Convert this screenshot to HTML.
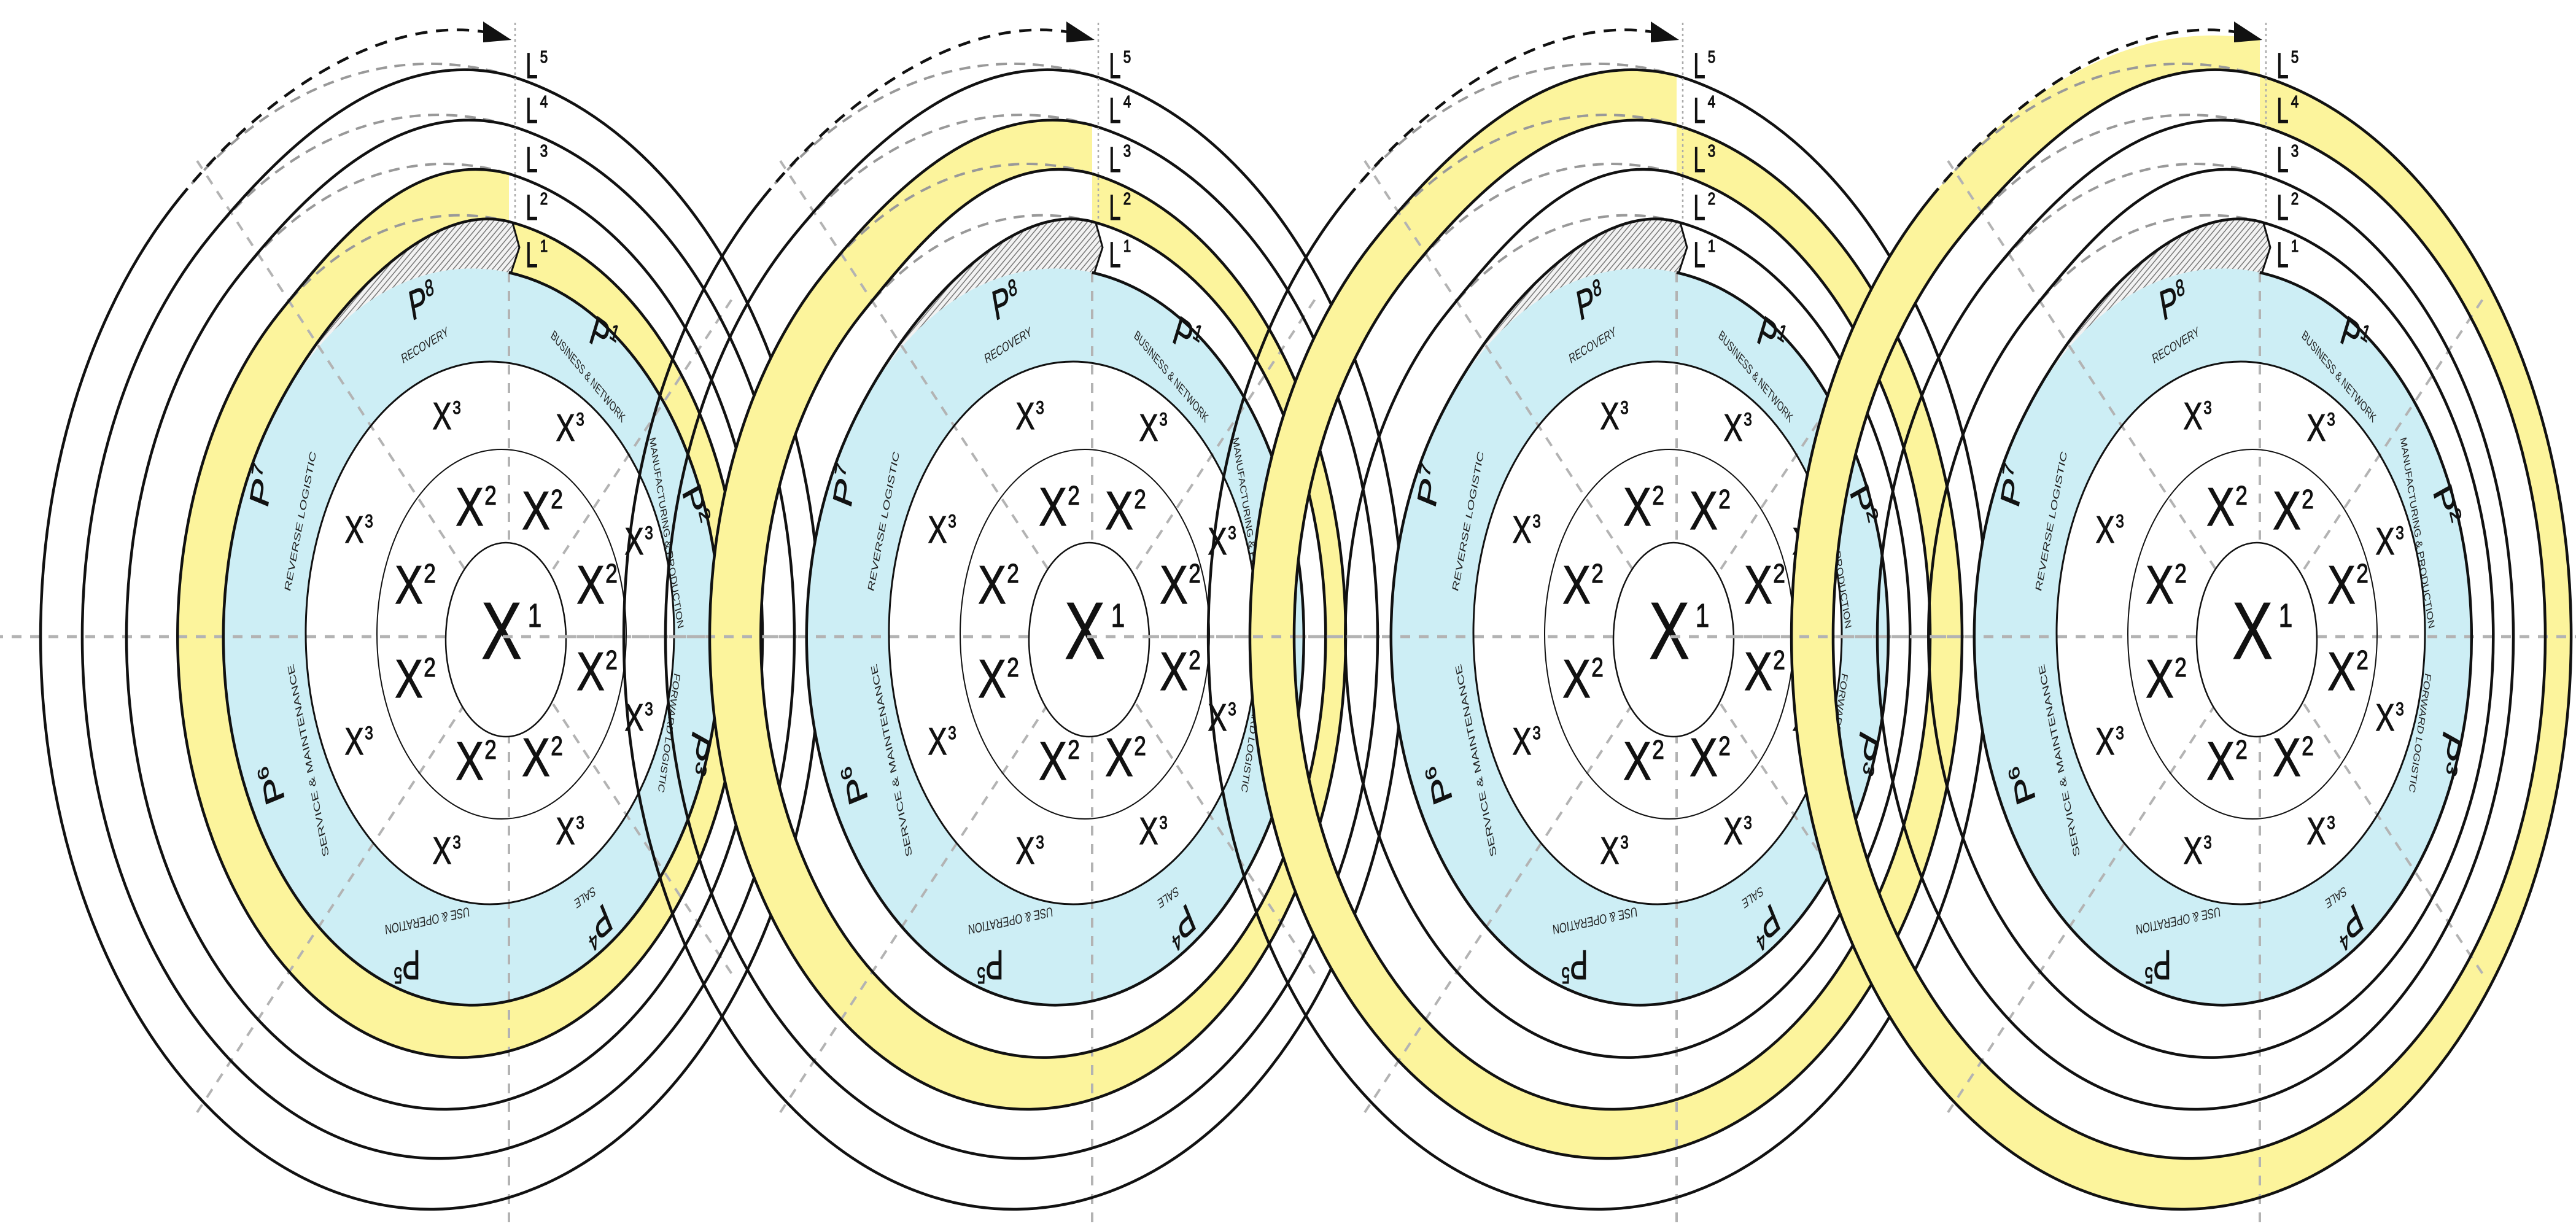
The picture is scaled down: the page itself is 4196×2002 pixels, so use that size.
<!DOCTYPE html>
<html><head><meta charset="utf-8"><style>
html,body{margin:0;padding:0;background:#fff}
svg{display:block}
.a{font-family:"Liberation Sans",sans-serif;fill:#111;stroke:#111;stroke-width:1.2;text-anchor:middle}
.c{font-family:"Liberation Sans",sans-serif;fill:#222;text-anchor:middle;dominant-baseline:central;font-size:22px}
.p{font-family:"Liberation Sans",sans-serif;fill:#111;stroke:#111;stroke-width:1;text-anchor:middle;dominant-baseline:central;font-size:68px}
</style></head><body>
<svg xmlns="http://www.w3.org/2000/svg" width="4196" height="2002" viewBox="0 0 4196 2002">
<defs>
<pattern id="h" width="7" height="7" patternUnits="userSpaceOnUse" patternTransform="rotate(40)">
<rect width="7" height="7" fill="#f2f2f2"/><line x1="0" y1="0" x2="0" y2="7" stroke="#777" stroke-width="3"/></pattern>
<g id="fill">
<ellipse cx="-60" cy="0" rx="405" ry="600" fill="#cdeef5"/>
<ellipse cx="-31" cy="-6" rx="300" ry="442" fill="#fff"/>
</g>
<g id="lines">
<path d="M-391.8,-344.2 C-308.2,-521.1 -135.9,-711.8 0,-676 L6,-674 L17,-634 L4,-594 L0,-593 A405 600 0 0 0 -391.8,-344.2 Z" fill="url(#h)"/>
<g stroke="#b3b3b3" stroke-width="4" stroke-dasharray="16 14" fill="none">
<path d="M0,-593 L0,-158 M0,158 L0,965"/>
<path d="M-72,-110 L-508,-775 M-72,110 L-508,775 M72,-110 L370,-560 M72,110 L370,560"/>
<path d="M-960,0 L-103,0 M93,0 L960,0" stroke-width="5"/>
</g>
<g stroke="#999" stroke-width="4" stroke-dasharray="18 12" fill="none">
<path d="M-375.7,-525.5 A460 686 0 0 1 0,-676"/>
<path d="M-438,-589.8 A518 770 0 0 1 0,-754"/>
<path d="M-487.8,-651.1 A580 850 0 0 1 0,-833"/>
<path d="M-536.2,-714.7 A635 933 0 0 1 0,-914"/>
</g>
<ellipse cx="-31" cy="-6" rx="300" ry="442" fill="none" stroke="#111" stroke-width="3"/>
<ellipse cx="-12" cy="-4" rx="203" ry="301" fill="none" stroke="#111" stroke-width="2"/>
<ellipse cx="-5" cy="5" rx="98" ry="158" fill="#fff" stroke="#111" stroke-width="2.5"/>
<g stroke="#111" stroke-width="4.5" fill="none">
<path d="M0,-593 A405 600 0 1 1 -391.8,-344.2 C-308.2,-521.1 -135.9,-711.8 0,-676"/>
<path d="M0,-676 A460 686 0 1 1 -375.7,-525.5 C-270,-657.8 -153.1,-794.2 0,-754"/>
<path d="M0,-754 A518 770 0 1 1 -438,-589.8 C-319,-738.3 -171.4,-877.4 0,-833"/>
<path d="M0,-833 A580 850 0 1 1 -487.8,-651.1 C-354.5,-815 -187.6,-962.7 0,-914"/>
<path d="M0,-914 A635 933 0 1 1 -536.2,-714.7"/>
<path d="M-536.2,-714.7 C-390.3,-894.6 -200,-1010 -40,-985" stroke-dasharray="20 14"/>
<path d="M0,-676 L6,-674 L17,-634 L4,-594 L0,-593" stroke-width="3"/>
</g>
<polygon points="-42,-1002 -42,-968 4,-972" fill="#111"/>
<path d="M10,-1000 L10,-676" stroke="#aaa" stroke-width="2.5" stroke-dasharray="4 5" fill="none"/>
</g>
</defs>
<rect width="4196" height="2002" fill="#fff"/>

<!-- DIAGRAM 1 -->
<g transform="translate(829,1037)">
<use href="#fill"/>
<path d="M0,-676 A460 686 0 1 1 -375.7,-525.5 C-270,-657.8 -153.1,-794.2 0,-754 L0,-676 C-135.9,-711.8 -308.2,-521.1 -391.8,-344.2 A405 600 0 1 0 0,-593 Z" fill="#fcf49c"/>
<use href="#lines"/>
<text class="a" font-size="132" transform="translate(-12,36) scale(0.75,1)">X</text><text class="a" font-size="54" transform="translate(42,-16) scale(0.75,1)">1</text>
<text class="a" font-size="88" transform="translate(-64,-181) scale(.78,1)">X</text><text class="a" font-size="44" transform="translate(-30,-215) scale(.8,1)">2</text>
<text class="a" font-size="88" transform="translate(44,-175) scale(.78,1)">X</text><text class="a" font-size="44" transform="translate(78,-209) scale(.8,1)">2</text>
<text class="a" font-size="88" transform="translate(-163,-54) scale(.78,1)">X</text><text class="a" font-size="44" transform="translate(-129,-88) scale(.8,1)">2</text>
<text class="a" font-size="88" transform="translate(133,-54) scale(.78,1)">X</text><text class="a" font-size="44" transform="translate(167,-88) scale(.8,1)">2</text>
<text class="a" font-size="88" transform="translate(-163,99) scale(.78,1)">X</text><text class="a" font-size="44" transform="translate(-129,65) scale(.8,1)">2</text>
<text class="a" font-size="88" transform="translate(133,87) scale(.78,1)">X</text><text class="a" font-size="44" transform="translate(167,53) scale(.8,1)">2</text>
<text class="a" font-size="88" transform="translate(-64,233) scale(.78,1)">X</text><text class="a" font-size="44" transform="translate(-30,199) scale(.8,1)">2</text>
<text class="a" font-size="88" transform="translate(44,227) scale(.78,1)">X</text><text class="a" font-size="44" transform="translate(78,193) scale(.8,1)">2</text>
<text class="a" font-size="62" transform="translate(-109,-338) scale(.75,1)">X</text><text class="a" font-size="30" transform="translate(-85,-363) scale(.8,1)">3</text>
<text class="a" font-size="62" transform="translate(92,-319) scale(.75,1)">X</text><text class="a" font-size="30" transform="translate(116,-344) scale(.8,1)">3</text>
<text class="a" font-size="62" transform="translate(-252,-153) scale(.75,1)">X</text><text class="a" font-size="30" transform="translate(-228,-178) scale(.8,1)">3</text>
<text class="a" font-size="62" transform="translate(204,-134) scale(.75,1)">X</text><text class="a" font-size="30" transform="translate(228,-159) scale(.8,1)">3</text>
<text class="a" font-size="62" transform="translate(-252,192) scale(.75,1)">X</text><text class="a" font-size="30" transform="translate(-228,167) scale(.8,1)">3</text>
<text class="a" font-size="62" transform="translate(204,153) scale(.75,1)">X</text><text class="a" font-size="30" transform="translate(228,128) scale(.8,1)">3</text>
<text class="a" font-size="62" transform="translate(-109,370) scale(.75,1)">X</text><text class="a" font-size="30" transform="translate(-85,345) scale(.8,1)">3</text>
<text class="a" font-size="62" transform="translate(92,338) scale(.75,1)">X</text><text class="a" font-size="30" transform="translate(116,313) scale(.8,1)">3</text>
<text class="p" transform="translate(-141,-545) scale(.65,1) rotate(-15)">P<tspan font-size="38" dy="-18">8</tspan></text>
<text class="p" transform="translate(154,-488) scale(.65,1) rotate(25)">P<tspan font-size="38" dy="-18">1</tspan></text>
<text class="p" transform="translate(303,-213) scale(.65,1) rotate(70)">P<tspan font-size="38" dy="-18">2</tspan></text>
<text class="p" transform="translate(307,189) scale(.65,1) rotate(110)">P<tspan font-size="38" dy="-18">3</tspan></text>
<text class="p" transform="translate(145,470) scale(.65,1) rotate(148)">P<tspan font-size="38" dy="-18">4</tspan></text>
<text class="p" transform="translate(-166,534) scale(.65,1) rotate(180)">P<tspan font-size="38" dy="-18">5</tspan></text>
<text class="p" transform="translate(-385,240) scale(.65,1) rotate(-105)">P<tspan font-size="38" dy="-18">6</tspan></text>
<text class="p" transform="translate(-402,-245) scale(.65,1) rotate(-75)">P<tspan font-size="38" dy="-18">7</tspan></text>
<text class="c" transform="translate(-137,-475) scale(.65,1) rotate(-22)" textLength="125" lengthAdjust="spacingAndGlyphs">RECOVERY</text>
<text class="c" transform="translate(129,-424) scale(.65,1) rotate(38)" textLength="228" lengthAdjust="spacingAndGlyphs">BUSINESS &amp; NETWORK</text>
<text class="c" transform="translate(257,-169) scale(.65,1) rotate(77)" textLength="319" lengthAdjust="spacingAndGlyphs">MANUFACTURING &amp; PRODUCTION</text>
<text class="c" transform="translate(261,157) scale(.65,1) rotate(102)" textLength="198" lengthAdjust="spacingAndGlyphs">FORWARD LOGISTIC</text>
<text class="c" transform="translate(124,425) scale(.65,1) rotate(155)" textLength="55" lengthAdjust="spacingAndGlyphs">SALE</text>
<text class="c" transform="translate(-133,463) scale(.65,1) rotate(172)" textLength="214" lengthAdjust="spacingAndGlyphs">USE &amp; OPERATION</text>
<text class="c" transform="translate(-327,202) scale(.65,1) rotate(-106)" textLength="325" lengthAdjust="spacingAndGlyphs">SERVICE &amp; MAINTENANCE</text>
<text class="c" transform="translate(-340,-188) scale(.65,1) rotate(-74)" textLength="236" lengthAdjust="spacingAndGlyphs">REVERSE LOGISTIC</text>
<text class="a" font-size="58" transform="translate(37,-910) scale(.6,1)">L</text><text class="a" font-size="28" transform="translate(57,-935) scale(.8,1)">5</text>
<text class="a" font-size="58" transform="translate(37,-837) scale(.6,1)">L</text><text class="a" font-size="28" transform="translate(57,-862) scale(.8,1)">4</text>
<text class="a" font-size="58" transform="translate(37,-757) scale(.6,1)">L</text><text class="a" font-size="28" transform="translate(57,-782) scale(.8,1)">3</text>
<text class="a" font-size="58" transform="translate(37,-679) scale(.6,1)">L</text><text class="a" font-size="28" transform="translate(57,-704) scale(.8,1)">2</text>
<text class="a" font-size="58" transform="translate(37,-602) scale(.6,1)">L</text><text class="a" font-size="28" transform="translate(57,-627) scale(.8,1)">1</text>
</g>

<!-- DIAGRAM 2 -->
<g transform="translate(1779,1037)">
<use href="#fill"/>
<path d="M0,-754 A518 770 0 1 1 -438,-589.8 C-319,-738.3 -171.4,-877.4 0,-833 L0,-754 C-153.1,-794.2 -270,-657.8 -375.7,-525.5 A460 686 0 1 0 0,-676 Z" fill="#fcf49c"/>
<use href="#lines"/>
<text class="a" font-size="132" transform="translate(-12,36) scale(0.75,1)">X</text><text class="a" font-size="54" transform="translate(42,-16) scale(0.75,1)">1</text>
<text class="a" font-size="88" transform="translate(-64,-181) scale(.78,1)">X</text><text class="a" font-size="44" transform="translate(-30,-215) scale(.8,1)">2</text>
<text class="a" font-size="88" transform="translate(44,-175) scale(.78,1)">X</text><text class="a" font-size="44" transform="translate(78,-209) scale(.8,1)">2</text>
<text class="a" font-size="88" transform="translate(-163,-54) scale(.78,1)">X</text><text class="a" font-size="44" transform="translate(-129,-88) scale(.8,1)">2</text>
<text class="a" font-size="88" transform="translate(133,-54) scale(.78,1)">X</text><text class="a" font-size="44" transform="translate(167,-88) scale(.8,1)">2</text>
<text class="a" font-size="88" transform="translate(-163,99) scale(.78,1)">X</text><text class="a" font-size="44" transform="translate(-129,65) scale(.8,1)">2</text>
<text class="a" font-size="88" transform="translate(133,87) scale(.78,1)">X</text><text class="a" font-size="44" transform="translate(167,53) scale(.8,1)">2</text>
<text class="a" font-size="88" transform="translate(-64,233) scale(.78,1)">X</text><text class="a" font-size="44" transform="translate(-30,199) scale(.8,1)">2</text>
<text class="a" font-size="88" transform="translate(44,227) scale(.78,1)">X</text><text class="a" font-size="44" transform="translate(78,193) scale(.8,1)">2</text>
<text class="a" font-size="62" transform="translate(-109,-338) scale(.75,1)">X</text><text class="a" font-size="30" transform="translate(-85,-363) scale(.8,1)">3</text>
<text class="a" font-size="62" transform="translate(92,-319) scale(.75,1)">X</text><text class="a" font-size="30" transform="translate(116,-344) scale(.8,1)">3</text>
<text class="a" font-size="62" transform="translate(-252,-153) scale(.75,1)">X</text><text class="a" font-size="30" transform="translate(-228,-178) scale(.8,1)">3</text>
<text class="a" font-size="62" transform="translate(204,-134) scale(.75,1)">X</text><text class="a" font-size="30" transform="translate(228,-159) scale(.8,1)">3</text>
<text class="a" font-size="62" transform="translate(-252,192) scale(.75,1)">X</text><text class="a" font-size="30" transform="translate(-228,167) scale(.8,1)">3</text>
<text class="a" font-size="62" transform="translate(204,153) scale(.75,1)">X</text><text class="a" font-size="30" transform="translate(228,128) scale(.8,1)">3</text>
<text class="a" font-size="62" transform="translate(-109,370) scale(.75,1)">X</text><text class="a" font-size="30" transform="translate(-85,345) scale(.8,1)">3</text>
<text class="a" font-size="62" transform="translate(92,338) scale(.75,1)">X</text><text class="a" font-size="30" transform="translate(116,313) scale(.8,1)">3</text>
<text class="p" transform="translate(-141,-545) scale(.65,1) rotate(-15)">P<tspan font-size="38" dy="-18">8</tspan></text>
<text class="p" transform="translate(154,-488) scale(.65,1) rotate(25)">P<tspan font-size="38" dy="-18">1</tspan></text>
<text class="p" transform="translate(303,-213) scale(.65,1) rotate(70)">P<tspan font-size="38" dy="-18">2</tspan></text>
<text class="p" transform="translate(307,189) scale(.65,1) rotate(110)">P<tspan font-size="38" dy="-18">3</tspan></text>
<text class="p" transform="translate(145,470) scale(.65,1) rotate(148)">P<tspan font-size="38" dy="-18">4</tspan></text>
<text class="p" transform="translate(-166,534) scale(.65,1) rotate(180)">P<tspan font-size="38" dy="-18">5</tspan></text>
<text class="p" transform="translate(-385,240) scale(.65,1) rotate(-105)">P<tspan font-size="38" dy="-18">6</tspan></text>
<text class="p" transform="translate(-402,-245) scale(.65,1) rotate(-75)">P<tspan font-size="38" dy="-18">7</tspan></text>
<text class="c" transform="translate(-137,-475) scale(.65,1) rotate(-22)" textLength="125" lengthAdjust="spacingAndGlyphs">RECOVERY</text>
<text class="c" transform="translate(129,-424) scale(.65,1) rotate(38)" textLength="228" lengthAdjust="spacingAndGlyphs">BUSINESS &amp; NETWORK</text>
<text class="c" transform="translate(257,-169) scale(.65,1) rotate(77)" textLength="319" lengthAdjust="spacingAndGlyphs">MANUFACTURING &amp; PRODUCTION</text>
<text class="c" transform="translate(261,157) scale(.65,1) rotate(102)" textLength="198" lengthAdjust="spacingAndGlyphs">FORWARD LOGISTIC</text>
<text class="c" transform="translate(124,425) scale(.65,1) rotate(155)" textLength="55" lengthAdjust="spacingAndGlyphs">SALE</text>
<text class="c" transform="translate(-133,463) scale(.65,1) rotate(172)" textLength="214" lengthAdjust="spacingAndGlyphs">USE &amp; OPERATION</text>
<text class="c" transform="translate(-327,202) scale(.65,1) rotate(-106)" textLength="325" lengthAdjust="spacingAndGlyphs">SERVICE &amp; MAINTENANCE</text>
<text class="c" transform="translate(-340,-188) scale(.65,1) rotate(-74)" textLength="236" lengthAdjust="spacingAndGlyphs">REVERSE LOGISTIC</text>
<text class="a" font-size="58" transform="translate(37,-910) scale(.6,1)">L</text><text class="a" font-size="28" transform="translate(57,-935) scale(.8,1)">5</text>
<text class="a" font-size="58" transform="translate(37,-837) scale(.6,1)">L</text><text class="a" font-size="28" transform="translate(57,-862) scale(.8,1)">4</text>
<text class="a" font-size="58" transform="translate(37,-757) scale(.6,1)">L</text><text class="a" font-size="28" transform="translate(57,-782) scale(.8,1)">3</text>
<text class="a" font-size="58" transform="translate(37,-679) scale(.6,1)">L</text><text class="a" font-size="28" transform="translate(57,-704) scale(.8,1)">2</text>
<text class="a" font-size="58" transform="translate(37,-602) scale(.6,1)">L</text><text class="a" font-size="28" transform="translate(57,-627) scale(.8,1)">1</text>
</g>

<!-- DIAGRAM 3 -->
<g transform="translate(2731,1037)">
<use href="#fill"/>
<path d="M0,-833 A580 850 0 1 1 -487.8,-651.1 C-354.5,-815 -187.6,-962.7 0,-914 L0,-833 C-171.4,-877.4 -319,-738.3 -438,-589.8 A518 770 0 1 0 0,-754 Z" fill="#fcf49c"/>
<use href="#lines"/>
<text class="a" font-size="132" transform="translate(-12,36) scale(0.75,1)">X</text><text class="a" font-size="54" transform="translate(42,-16) scale(0.75,1)">1</text>
<text class="a" font-size="88" transform="translate(-64,-181) scale(.78,1)">X</text><text class="a" font-size="44" transform="translate(-30,-215) scale(.8,1)">2</text>
<text class="a" font-size="88" transform="translate(44,-175) scale(.78,1)">X</text><text class="a" font-size="44" transform="translate(78,-209) scale(.8,1)">2</text>
<text class="a" font-size="88" transform="translate(-163,-54) scale(.78,1)">X</text><text class="a" font-size="44" transform="translate(-129,-88) scale(.8,1)">2</text>
<text class="a" font-size="88" transform="translate(133,-54) scale(.78,1)">X</text><text class="a" font-size="44" transform="translate(167,-88) scale(.8,1)">2</text>
<text class="a" font-size="88" transform="translate(-163,99) scale(.78,1)">X</text><text class="a" font-size="44" transform="translate(-129,65) scale(.8,1)">2</text>
<text class="a" font-size="88" transform="translate(133,87) scale(.78,1)">X</text><text class="a" font-size="44" transform="translate(167,53) scale(.8,1)">2</text>
<text class="a" font-size="88" transform="translate(-64,233) scale(.78,1)">X</text><text class="a" font-size="44" transform="translate(-30,199) scale(.8,1)">2</text>
<text class="a" font-size="88" transform="translate(44,227) scale(.78,1)">X</text><text class="a" font-size="44" transform="translate(78,193) scale(.8,1)">2</text>
<text class="a" font-size="62" transform="translate(-109,-338) scale(.75,1)">X</text><text class="a" font-size="30" transform="translate(-85,-363) scale(.8,1)">3</text>
<text class="a" font-size="62" transform="translate(92,-319) scale(.75,1)">X</text><text class="a" font-size="30" transform="translate(116,-344) scale(.8,1)">3</text>
<text class="a" font-size="62" transform="translate(-252,-153) scale(.75,1)">X</text><text class="a" font-size="30" transform="translate(-228,-178) scale(.8,1)">3</text>
<text class="a" font-size="62" transform="translate(204,-134) scale(.75,1)">X</text><text class="a" font-size="30" transform="translate(228,-159) scale(.8,1)">3</text>
<text class="a" font-size="62" transform="translate(-252,192) scale(.75,1)">X</text><text class="a" font-size="30" transform="translate(-228,167) scale(.8,1)">3</text>
<text class="a" font-size="62" transform="translate(204,153) scale(.75,1)">X</text><text class="a" font-size="30" transform="translate(228,128) scale(.8,1)">3</text>
<text class="a" font-size="62" transform="translate(-109,370) scale(.75,1)">X</text><text class="a" font-size="30" transform="translate(-85,345) scale(.8,1)">3</text>
<text class="a" font-size="62" transform="translate(92,338) scale(.75,1)">X</text><text class="a" font-size="30" transform="translate(116,313) scale(.8,1)">3</text>
<text class="p" transform="translate(-141,-545) scale(.65,1) rotate(-15)">P<tspan font-size="38" dy="-18">8</tspan></text>
<text class="p" transform="translate(154,-488) scale(.65,1) rotate(25)">P<tspan font-size="38" dy="-18">1</tspan></text>
<text class="p" transform="translate(303,-213) scale(.65,1) rotate(70)">P<tspan font-size="38" dy="-18">2</tspan></text>
<text class="p" transform="translate(307,189) scale(.65,1) rotate(110)">P<tspan font-size="38" dy="-18">3</tspan></text>
<text class="p" transform="translate(145,470) scale(.65,1) rotate(148)">P<tspan font-size="38" dy="-18">4</tspan></text>
<text class="p" transform="translate(-166,534) scale(.65,1) rotate(180)">P<tspan font-size="38" dy="-18">5</tspan></text>
<text class="p" transform="translate(-385,240) scale(.65,1) rotate(-105)">P<tspan font-size="38" dy="-18">6</tspan></text>
<text class="p" transform="translate(-402,-245) scale(.65,1) rotate(-75)">P<tspan font-size="38" dy="-18">7</tspan></text>
<text class="c" transform="translate(-137,-475) scale(.65,1) rotate(-22)" textLength="125" lengthAdjust="spacingAndGlyphs">RECOVERY</text>
<text class="c" transform="translate(129,-424) scale(.65,1) rotate(38)" textLength="228" lengthAdjust="spacingAndGlyphs">BUSINESS &amp; NETWORK</text>
<text class="c" transform="translate(257,-169) scale(.65,1) rotate(77)" textLength="319" lengthAdjust="spacingAndGlyphs">MANUFACTURING &amp; PRODUCTION</text>
<text class="c" transform="translate(261,157) scale(.65,1) rotate(102)" textLength="198" lengthAdjust="spacingAndGlyphs">FORWARD LOGISTIC</text>
<text class="c" transform="translate(124,425) scale(.65,1) rotate(155)" textLength="55" lengthAdjust="spacingAndGlyphs">SALE</text>
<text class="c" transform="translate(-133,463) scale(.65,1) rotate(172)" textLength="214" lengthAdjust="spacingAndGlyphs">USE &amp; OPERATION</text>
<text class="c" transform="translate(-327,202) scale(.65,1) rotate(-106)" textLength="325" lengthAdjust="spacingAndGlyphs">SERVICE &amp; MAINTENANCE</text>
<text class="c" transform="translate(-340,-188) scale(.65,1) rotate(-74)" textLength="236" lengthAdjust="spacingAndGlyphs">REVERSE LOGISTIC</text>
<text class="a" font-size="58" transform="translate(37,-910) scale(.6,1)">L</text><text class="a" font-size="28" transform="translate(57,-935) scale(.8,1)">5</text>
<text class="a" font-size="58" transform="translate(37,-837) scale(.6,1)">L</text><text class="a" font-size="28" transform="translate(57,-862) scale(.8,1)">4</text>
<text class="a" font-size="58" transform="translate(37,-757) scale(.6,1)">L</text><text class="a" font-size="28" transform="translate(57,-782) scale(.8,1)">3</text>
<text class="a" font-size="58" transform="translate(37,-679) scale(.6,1)">L</text><text class="a" font-size="28" transform="translate(57,-704) scale(.8,1)">2</text>
<text class="a" font-size="58" transform="translate(37,-602) scale(.6,1)">L</text><text class="a" font-size="28" transform="translate(57,-627) scale(.8,1)">1</text>
</g>

<!-- DIAGRAM 4 -->
<g transform="translate(3681,1037)">
<use href="#fill"/>
<path d="M0,-914 A635 933 0 1 1 -536.2,-714.7 C-390.3,-894.6 -200,-1010 0,-972 L0,-914 C-187.6,-962.7 -354.5,-815 -487.8,-651.1 A580 850 0 1 0 0,-833 Z" fill="#fcf49c"/>
<use href="#lines"/>
<text class="a" font-size="132" transform="translate(-12,36) scale(0.75,1)">X</text><text class="a" font-size="54" transform="translate(42,-16) scale(0.75,1)">1</text>
<text class="a" font-size="88" transform="translate(-64,-181) scale(.78,1)">X</text><text class="a" font-size="44" transform="translate(-30,-215) scale(.8,1)">2</text>
<text class="a" font-size="88" transform="translate(44,-175) scale(.78,1)">X</text><text class="a" font-size="44" transform="translate(78,-209) scale(.8,1)">2</text>
<text class="a" font-size="88" transform="translate(-163,-54) scale(.78,1)">X</text><text class="a" font-size="44" transform="translate(-129,-88) scale(.8,1)">2</text>
<text class="a" font-size="88" transform="translate(133,-54) scale(.78,1)">X</text><text class="a" font-size="44" transform="translate(167,-88) scale(.8,1)">2</text>
<text class="a" font-size="88" transform="translate(-163,99) scale(.78,1)">X</text><text class="a" font-size="44" transform="translate(-129,65) scale(.8,1)">2</text>
<text class="a" font-size="88" transform="translate(133,87) scale(.78,1)">X</text><text class="a" font-size="44" transform="translate(167,53) scale(.8,1)">2</text>
<text class="a" font-size="88" transform="translate(-64,233) scale(.78,1)">X</text><text class="a" font-size="44" transform="translate(-30,199) scale(.8,1)">2</text>
<text class="a" font-size="88" transform="translate(44,227) scale(.78,1)">X</text><text class="a" font-size="44" transform="translate(78,193) scale(.8,1)">2</text>
<text class="a" font-size="62" transform="translate(-109,-338) scale(.75,1)">X</text><text class="a" font-size="30" transform="translate(-85,-363) scale(.8,1)">3</text>
<text class="a" font-size="62" transform="translate(92,-319) scale(.75,1)">X</text><text class="a" font-size="30" transform="translate(116,-344) scale(.8,1)">3</text>
<text class="a" font-size="62" transform="translate(-252,-153) scale(.75,1)">X</text><text class="a" font-size="30" transform="translate(-228,-178) scale(.8,1)">3</text>
<text class="a" font-size="62" transform="translate(204,-134) scale(.75,1)">X</text><text class="a" font-size="30" transform="translate(228,-159) scale(.8,1)">3</text>
<text class="a" font-size="62" transform="translate(-252,192) scale(.75,1)">X</text><text class="a" font-size="30" transform="translate(-228,167) scale(.8,1)">3</text>
<text class="a" font-size="62" transform="translate(204,153) scale(.75,1)">X</text><text class="a" font-size="30" transform="translate(228,128) scale(.8,1)">3</text>
<text class="a" font-size="62" transform="translate(-109,370) scale(.75,1)">X</text><text class="a" font-size="30" transform="translate(-85,345) scale(.8,1)">3</text>
<text class="a" font-size="62" transform="translate(92,338) scale(.75,1)">X</text><text class="a" font-size="30" transform="translate(116,313) scale(.8,1)">3</text>
<text class="p" transform="translate(-141,-545) scale(.65,1) rotate(-15)">P<tspan font-size="38" dy="-18">8</tspan></text>
<text class="p" transform="translate(154,-488) scale(.65,1) rotate(25)">P<tspan font-size="38" dy="-18">1</tspan></text>
<text class="p" transform="translate(303,-213) scale(.65,1) rotate(70)">P<tspan font-size="38" dy="-18">2</tspan></text>
<text class="p" transform="translate(307,189) scale(.65,1) rotate(110)">P<tspan font-size="38" dy="-18">3</tspan></text>
<text class="p" transform="translate(145,470) scale(.65,1) rotate(148)">P<tspan font-size="38" dy="-18">4</tspan></text>
<text class="p" transform="translate(-166,534) scale(.65,1) rotate(180)">P<tspan font-size="38" dy="-18">5</tspan></text>
<text class="p" transform="translate(-385,240) scale(.65,1) rotate(-105)">P<tspan font-size="38" dy="-18">6</tspan></text>
<text class="p" transform="translate(-402,-245) scale(.65,1) rotate(-75)">P<tspan font-size="38" dy="-18">7</tspan></text>
<text class="c" transform="translate(-137,-475) scale(.65,1) rotate(-22)" textLength="125" lengthAdjust="spacingAndGlyphs">RECOVERY</text>
<text class="c" transform="translate(129,-424) scale(.65,1) rotate(38)" textLength="228" lengthAdjust="spacingAndGlyphs">BUSINESS &amp; NETWORK</text>
<text class="c" transform="translate(257,-169) scale(.65,1) rotate(77)" textLength="319" lengthAdjust="spacingAndGlyphs">MANUFACTURING &amp; PRODUCTION</text>
<text class="c" transform="translate(261,157) scale(.65,1) rotate(102)" textLength="198" lengthAdjust="spacingAndGlyphs">FORWARD LOGISTIC</text>
<text class="c" transform="translate(124,425) scale(.65,1) rotate(155)" textLength="55" lengthAdjust="spacingAndGlyphs">SALE</text>
<text class="c" transform="translate(-133,463) scale(.65,1) rotate(172)" textLength="214" lengthAdjust="spacingAndGlyphs">USE &amp; OPERATION</text>
<text class="c" transform="translate(-327,202) scale(.65,1) rotate(-106)" textLength="325" lengthAdjust="spacingAndGlyphs">SERVICE &amp; MAINTENANCE</text>
<text class="c" transform="translate(-340,-188) scale(.65,1) rotate(-74)" textLength="236" lengthAdjust="spacingAndGlyphs">REVERSE LOGISTIC</text>
<text class="a" font-size="58" transform="translate(37,-910) scale(.6,1)">L</text><text class="a" font-size="28" transform="translate(57,-935) scale(.8,1)">5</text>
<text class="a" font-size="58" transform="translate(37,-837) scale(.6,1)">L</text><text class="a" font-size="28" transform="translate(57,-862) scale(.8,1)">4</text>
<text class="a" font-size="58" transform="translate(37,-757) scale(.6,1)">L</text><text class="a" font-size="28" transform="translate(57,-782) scale(.8,1)">3</text>
<text class="a" font-size="58" transform="translate(37,-679) scale(.6,1)">L</text><text class="a" font-size="28" transform="translate(57,-704) scale(.8,1)">2</text>
<text class="a" font-size="58" transform="translate(37,-602) scale(.6,1)">L</text><text class="a" font-size="28" transform="translate(57,-627) scale(.8,1)">1</text>
</g>
</svg>
</body></html>
